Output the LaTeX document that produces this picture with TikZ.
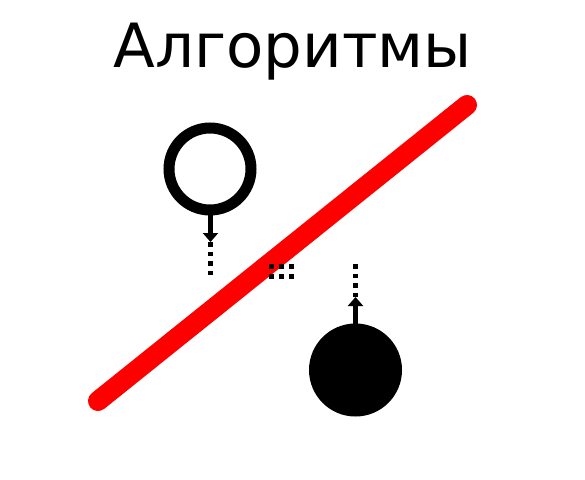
\documentclass[tikz,border=0pt]{standalone}
\usepackage{fontspec}
\newfontfamily\titlefont{DejaVu Sans}
\usetikzlibrary{arrows.meta}
\tikzset{
  stem/.style={line width=4.5pt, -{Triangle[width=15pt,length=9pt]}},
  dots/.style={line width=4.5pt, dash pattern=on 4.5pt off 5pt},
  sq/.style={fill=black, minimum size=5pt, inner sep=0pt, outer sep=0pt, draw=none}
}
\begin{document}
\begin{tikzpicture}[x=1pt,y=-1pt]
\useasboundingbox (0,0) rectangle (585,479);
\node[anchor=base, inner sep=0pt, font=\titlefont\fontsize{61}{70}\selectfont] (title) at (293,67) {Алгоритмы};
\coordinate (r1) at (98,401);
\coordinate (r2) at (467,105);
\draw[red, line width=20pt, line cap=round] (r1) -- (r2);
\node[circle, draw, line width=11pt, minimum size=82pt, inner sep=0pt, outer sep=0pt] (open) at (210,169) {};
\node[circle, fill=black, minimum size=93pt, inner sep=0pt, outer sep=0pt] (full) at (355.5,370) {};
\coordinate (lt) at (210.5,242);
\coordinate (le) at (210.5,275);
\coordinate (ltop) at (210.5,214);
\draw[stem] (ltop) -- (lt);
\draw[dots] (lt) -- (le);
\coordinate (rt) at (355.5,297);
\coordinate (re) at (355.5,264);
\coordinate (rbot) at (355.5,324);
\draw[stem] (rbot) -- (rt);
\draw[dots] (rt) -- (re);
\foreach \i/\x in {1/271.5,2/281.5,3/291.5}{
  \node[sq] (m\i a) at (\x,266.5) {};
  \node[sq] (m\i b) at (\x,276.5) {};
}
\end{tikzpicture}
\end{document}
